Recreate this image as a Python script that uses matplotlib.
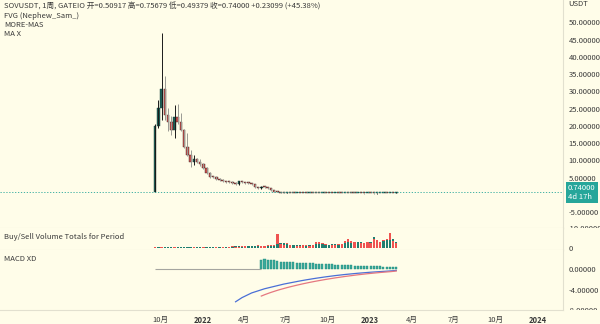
import matplotlib
matplotlib.use('Agg')
import matplotlib.pyplot as plt
import matplotlib.dates as mdates
import matplotlib.transforms as mtransforms
import numpy as np
import pandas as pd

plt.rcParams['font.family'] = ['Noto Sans CJK SC', 'DejaVu Sans']
plt.rcParams['axes.unicode_minus'] = False

# weekly SOV/USDT candles
weeks = pd.date_range('2021-09-20', periods=76, freq='7D')
opens = [0.8, 20.0, 25.2, 30.7, 23.2, 21.2, 18.8, 22.7, 21.2, 18.8, 14.0, 11.6, 9.6, 10.3, 9.6, 8.9,
         7.7, 6.4, 5.3, 5.1, 4.5, 4.4, 3.9, 3.8, 3.7, 3.4, 3.2, 3.9, 3.6, 3.5, 3.4, 3.2,
         2.3, 1.9, 2.4, 2.2, 2.0, 1.4, 0.9, 0.75, 0.68, 0.62, 0.65, 0.60, 0.58, 0.63, 0.61, 0.57,
         0.55, 0.59, 0.56, 0.54, 0.52, 0.55, 0.53, 0.50, 0.48, 0.51, 0.49, 0.47, 0.50, 0.48, 0.46, 0.45,
         0.47, 0.44, 0.42, 0.45, 0.43, 0.41, 0.44, 0.46, 0.48, 0.47, 0.52, 0.50917]
highs = [20.5, 27.5, 47.0, 34.5, 25.3, 23.0, 26.2, 26.4, 23.6, 19.2, 17.9, 13.0, 11.6, 10.8, 10.5, 9.2,
         8.2, 6.6, 5.6, 5.5, 4.8, 4.6, 4.1, 4.0, 3.9, 3.6, 4.1, 4.0, 3.8, 3.6, 3.5, 3.3,
         2.4, 2.6, 2.6, 2.4, 2.1, 1.5, 1.0, 0.82, 0.72, 0.70, 0.68, 0.64, 0.66, 0.67, 0.63, 0.60,
         0.62, 0.61, 0.58, 0.56, 0.58, 0.57, 0.55, 0.52, 0.54, 0.53, 0.51, 0.52, 0.52, 0.50, 0.48, 0.49,
         0.48, 0.46, 0.47, 0.46, 0.45, 0.46, 0.48, 0.50, 0.50, 0.55, 0.56, 0.75679]
lows = [0.8, 19.4, 21.7, 21.7, 18.4, 17.5, 16.5, 20.5, 18.5, 13.5, 11.2, 8.2, 8.7, 9.2, 8.4, 7.4,
        6.0, 5.0, 4.8, 4.3, 4.1, 3.7, 3.5, 3.5, 3.2, 3.0, 2.8, 3.4, 3.3, 3.2, 3.0, 2.1,
        1.7, 1.8, 2.0, 1.8, 1.2, 0.8, 0.70, 0.64, 0.58, 0.60, 0.57, 0.55, 0.56, 0.58, 0.55, 0.53,
        0.53, 0.54, 0.52, 0.50, 0.50, 0.51, 0.48, 0.46, 0.47, 0.47, 0.45, 0.45, 0.46, 0.44, 0.43, 0.43,
        0.42, 0.40, 0.41, 0.41, 0.39, 0.40, 0.43, 0.45, 0.45, 0.46, 0.49, 0.49379]
closes = [20.0, 25.2, 30.7, 23.2, 21.2, 18.8, 22.7, 21.2, 18.8, 14.0, 11.6, 9.6, 10.3, 9.6, 8.9, 7.7,
          6.4, 5.3, 5.1, 4.5, 4.4, 3.9, 3.8, 3.7, 3.4, 3.2, 3.9, 3.6, 3.5, 3.4, 3.2, 2.3,
          1.9, 2.4, 2.2, 2.0, 1.4, 0.9, 0.75, 0.68, 0.62, 0.65, 0.60, 0.58, 0.63, 0.61, 0.57, 0.55,
          0.59, 0.56, 0.54, 0.52, 0.55, 0.53, 0.50, 0.48, 0.51, 0.49, 0.47, 0.50, 0.48, 0.46, 0.45, 0.47,
          0.44, 0.42, 0.45, 0.43, 0.41, 0.44, 0.46, 0.48, 0.47, 0.52, 0.50917, 0.74]
last_price = 0.74

# buy / sell volume per week
buy_vol = [0.5, 0.4, 0.6, 0.3, 0.4, 0.3, 0.5, 0.3, 0.3, 0.4, 0.3, 0.3, 0.4, 0.3, 0.3, 0.4, 0.3, 0.3, 0.3, 0.4, 0.3, 0.4,
           0.6, 0.7, 0.6, 0.8, 0.9, 0.7, 1.1, 1.0, 0.9, 0.8, 0.9, 1.2, 1.0, 0.9, 1.0, 1.2,
           2.3, 2.9, 3.3, 2.4, 1.8, 1.6, 1.5, 1.4, 1.7, 1.3, 1.5, 1.8,
           2.4, 2.2, 2.3, 2.0, 1.9, 2.1, 2.3, 2.0, 2.6,
           3.2, 3.5, 2.9, 3.8, 3.4, 3.6, 3.3, 3.9, 3.5,
           6.7, 5.2, 4.0, 4.4, 4.8, 5.0, 5.6, 4.0]
sell_vol = [0.3, 0.5, 0.4, 0.5, 0.5, 0.4, 0.3, 0.4, 0.5, 0.5, 0.4, 0.4, 0.3, 0.4, 0.4, 0.3, 0.4, 0.4, 0.4, 0.3, 0.4, 0.3,
            0.7, 0.6, 0.8, 0.7, 0.6, 0.9, 0.8, 1.2, 1.1, 1.0, 1.4, 1.0, 0.8, 1.8, 1.6, 1.9,
            8.9, 2.2, 2.0, 2.8, 1.5, 1.8, 1.3, 1.2, 1.4, 1.6, 1.2, 1.4,
            4.0, 3.4, 2.8, 2.2, 2.0, 1.8, 1.9, 2.4, 2.2,
            4.6, 5.6, 4.2, 3.5, 3.9, 3.2, 3.0, 3.5, 3.1,
            5.4, 4.8, 3.6, 5.2, 5.6, 10.0, 4.2, 3.0]

# MACD XD: line from week 25, signal and histogram from week 33
macd_line = [-6.3, -5.9, -5.5, -5.2, -4.9, -4.6, -4.4, -4.2, -4.0, -3.8, -3.65, -3.5, -3.35, -3.2, -3.05,
             -2.9, -2.78, -2.66, -2.54, -2.42, -2.3, -2.19, -2.08, -1.98, -1.88, -1.78, -1.69, -1.6,
             -1.51, -1.43, -1.35, -1.27, -1.2, -1.13, -1.06, -1.0, -0.94, -0.88, -0.82, -0.77, -0.72,
             -0.67, -0.62, -0.58, -0.54, -0.5, -0.46, -0.42, -0.38, -0.33, -0.26]
signal_line = [-5.2, -4.95, -4.72, -4.5, -4.3, -4.1, -3.92, -3.75, -3.58, -3.42, -3.27, -3.12, -2.98,
               -2.84, -2.71, -2.58, -2.46, -2.34, -2.23, -2.12, -2.01, -1.91, -1.81, -1.71, -1.62,
               -1.53, -1.44, -1.36, -1.28, -1.2, -1.12, -1.05, -0.98, -0.91, -0.85, -0.79, -0.73,
               -0.67, -0.62, -0.57, -0.52, -0.46, -0.39]
macd_hist = [1.8, 1.85, 1.8, 1.75, 1.7, 1.45, 1.4, 1.38, 1.35, 1.3, 1.27, 1.24, 1.2, 1.17, 1.14,
             1.1, 1.07, 1.04, 1.0, 0.97, 0.94, 0.91, 0.88, 0.85, 0.82, 0.79, 0.76, 0.73, 0.7, 0.67,
             0.64, 0.62, 0.6, 0.57, 0.55, 0.52, 0.5, 0.48, 0.46, 0.44, 0.42, 0.4, 0.38]
macd_start, signal_start = 25, 33

price_ticks = [50, 45, 40, 35, 30, 25, 20, 15, 10, 5, -5]
macd_ticks = [0, -4]
tick_dates = ['2021-10-01', '2022-01-01', '2022-04-01', '2022-07-01', '2022-10-01',
              '2023-01-01', '2023-04-01', '2023-07-01', '2023-10-01', '2024-01-01']
tick_labels = ['10月', '2022', '4月', '7月', '10月', '2023', '4月', '7月', '10月', '2024']

BG = '#fffde9'
UP, DOWN = '#1d5d54', '#c44f4c'
VOL_UP, VOL_DOWN = '#1f7e70', '#ef5350'
TEAL = '#26a69a'
SEP = '#e2e0cf'
TXT = '#3a3a3a'

W, H = 600, 324
AX_W = 563
fig = plt.figure(figsize=(W / 100, H / 100), dpi=100, facecolor=BG)


def pane(top, bottom):
    a = fig.add_axes([0, 1 - bottom / H, AX_W / W, (bottom - top) / H])
    a.set_facecolor(BG)
    for s in a.spines.values():
        s.set_visible(False)
    for side in ('bottom', 'right'):
        a.spines[side].set_visible(True)
        a.spines[side].set_color(SEP)
        a.spines[side].set_linewidth(0.8)
    a.yaxis.tick_right()
    a.tick_params(axis='y', length=0, pad=4, labelsize=5.5, labelcolor=TXT)
    a.tick_params(axis='x', length=0, labelbottom=False)
    a.set_xlim(mdates.date2num(pd.Timestamp('2020-10-17')), mdates.date2num(pd.Timestamp('2024-02-25')))
    return a


ax = pane(0, 228)
axv = pane(228, 250)
axm = pane(250, 310)

x = mdates.date2num(weeks)
o, h, l, c = map(np.array, (opens, highs, lows, closes))
up = c >= o
body_lo = np.minimum(o, c)
body_h = np.maximum(np.abs(c - o), 0.3)

# candles
ax.vlines(x[up], l[up], h[up], color='#1a1a1a', lw=0.7)
ax.vlines(x[~up], l[~up], h[~up], color='#9a9a94', lw=0.7)
ax.bar(x[up], body_h[up], bottom=body_lo[up], width=5.4, color=UP, edgecolor='#163f39', lw=0.3)
ax.bar(x[~up], body_h[~up], bottom=body_lo[~up], width=5.4, color=DOWN, edgecolor='#3a2222', lw=0.3)
ax.axhline(last_price, color=TEAL, lw=0.6, ls=(0, (1.5, 2)))
ax.set_ylim(-9.59, 56.49)
ax.set_yticks(price_ticks)
ax.yaxis.set_major_formatter(matplotlib.ticker.FormatStrFormatter('%.5f'))

# price label on the axis
blend = mtransforms.blended_transform_factory(ax.transAxes, ax.transData)
ax.text(1.0 + 5 / AX_W, last_price, '0.74000\n4d 17h', transform=blend, ha='left', va='center',
        fontsize=5.5, color='white', linespacing=1.05, clip_on=False,
        bbox=dict(boxstyle='square,pad=0.3', fc=TEAL, ec='none'))
ax.text(1.0 + 5 / AX_W, 1.0, 'USDT', transform=ax.transAxes, ha='left', va='top', fontsize=5.5,
        color=TXT, clip_on=False)


# axis labels that the pane edge cuts in half
def edge_label(a, val, lo_px, hi_px):
    t = a.text(1.0 + 4.5 / AX_W, val, '%.5f' % val,
               transform=mtransforms.blended_transform_factory(a.transAxes, a.transData),
               ha='left', va='center', fontsize=5.5, color=TXT)
    t.set_clip_box(mtransforms.Bbox.from_extents(AX_W, H - hi_px, W, H - lo_px))
    t.set_clip_on(True)


edge_label(ax, -10, 0, 228)

# buy/sell volume
buy = np.array(buy_vol)
sell = np.array(sell_vol)
big = np.maximum(buy, sell)
small = np.minimum(buy, sell)
big_col = [VOL_UP if b >= s else VOL_DOWN for b, s in zip(buy, sell)]
small_col = [VOL_DOWN if b >= s else VOL_UP for b, s in zip(buy, sell)]
axv.bar(x, big, width=5, color=big_col, lw=0)
axv.bar(x, small, width=5, color=small_col, lw=0)
axv.set_ylim(-1.6, 13)
axv.set_yticks([0])
axv.set_yticklabels(['0'])
axv.text(0.007, 0.6, 'Buy/Sell Volume Totals for Period', transform=axv.transAxes,
         ha='left', va='center', fontsize=5.5, color=TXT)

# MACD
axm.hlines(0, x[0], x[signal_start], color='#a5a5a0', lw=0.8)
axm.bar(x[signal_start:], macd_hist, width=4.4, color='#3aa99b', edgecolor='#1f8a7d', lw=0.3)
axm.plot(x[macd_start:], macd_line, color='#4a6fd6', lw=0.9)
axm.plot(x[signal_start:], signal_line, color='#e57780', lw=0.9)
axm.set_ylim(-7.88, 3.65)
axm.set_yticks(macd_ticks)
axm.yaxis.set_major_formatter(matplotlib.ticker.FormatStrFormatter('%.5f'))
axm.text(0.007, 0.85, 'MACD XD', transform=axm.transAxes, ha='left', va='center',
         fontsize=5.5, color=TXT)
edge_label(axm, -8, 250, 310)

# time axis
axm.set_xticks(mdates.date2num(pd.to_datetime(tick_dates)))
axm.set_xticklabels(tick_labels)
axm.tick_params(axis='x', labelbottom=True, labelsize=5.5, labelcolor=TXT, pad=4)
for lab in axm.get_xticklabels():
    if not lab.get_text().endswith('月'):
        lab.set_fontweight('bold')

# indicator names at top left
fig.text(4 / W, 1 - 7 / H, 'SOVUSDT, 1周, GATEIO 开=0.50917 高=0.75679 低=0.49379 收=0.74000 +0.23099 (+45.38%)',
         ha='left', va='center', fontsize=5.5, color=TXT)
fig.text(4 / W, 1 - 16 / H, 'FVG (Nephew_Sam_)', ha='left', va='center', fontsize=5.5, color=TXT)
fig.text(4 / W, 1 - 25 / H, 'MORE-MAS', ha='left', va='center', fontsize=5.5, color=TXT)
fig.text(4 / W, 1 - 34 / H, 'MA X', ha='left', va='center', fontsize=5.5, color=TXT)

fig.savefig('out.png', dpi=100, facecolor=BG)
